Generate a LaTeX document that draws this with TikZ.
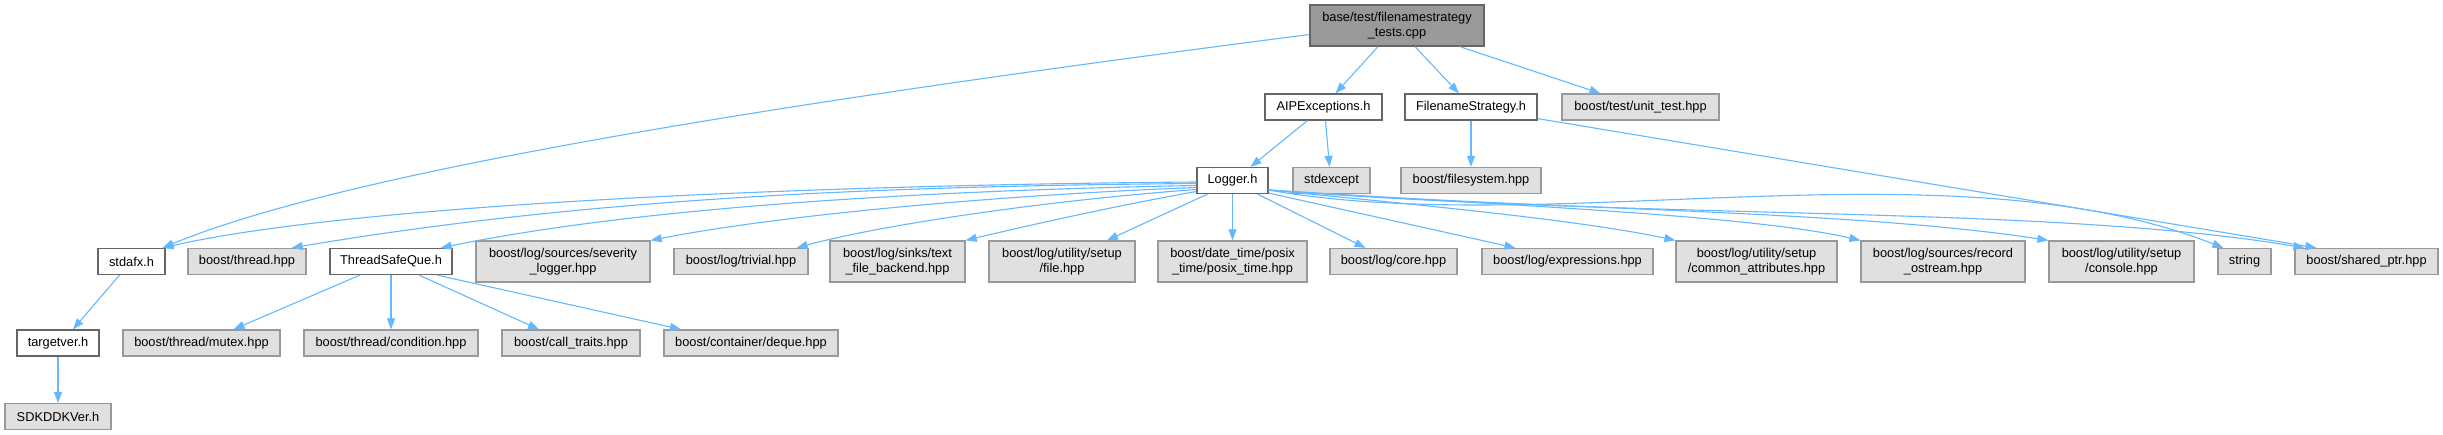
\documentclass[tikz,border=0pt]{standalone}
\usepackage{fontspec}
\setmainfont{Liberation Sans}
\usetikzlibrary{arrows.meta}
\definecolor{edgeblue}{HTML}{63B8FF}
\definecolor{extfill}{HTML}{E0E0E0}
\definecolor{extdraw}{HTML}{999999}
\definecolor{intdraw}{HTML}{666666}
\definecolor{topfill}{HTML}{999999}
\begin{document}
\begin{tikzpicture}[x=1pt,y=-1pt,
 box/.style={draw, rectangle, line width=1.2pt, inner sep=0pt, align=center, font=\fontsize{12.8}{15}\selectfont, text=black},
 ext/.style={box, fill=extfill, draw=extdraw},
 int/.style={box, fill=white, draw=intdraw},
 topnode/.style={box, fill=topfill, draw=intdraw},
 hone/.style={minimum height=26pt},
 htwo/.style={minimum height=41pt},
 dep/.style={draw=edgeblue, line width=1.1pt, -{Triangle[length=11pt,width=8pt]}}]
\useasboundingbox[fill=white] (0,0) rectangle (2443,435);

% row 1
\node[topnode,htwo,minimum width=174] (T) at (1397,25.5) {base/test/filenamestrategy\\\_tests.cpp};
% row 2
\node[int,hone,minimum width=117] (AIP) at (1323.5,107) {AIPExceptions.h};
\node[int,hone,minimum width=132] (FS) at (1471,107) {FilenameStrategy.h};
\node[ext,hone,minimum width=157] (UT) at (1640.5,107) {boost/test/unit\_test.hpp};
% row 3
\node[int,hone,minimum width=71] (LOG) at (1232.5,180.5) {Logger.h};
\node[ext,hone,minimum width=77] (SE) at (1331.5,180.5) {stdexcept};
\node[ext,hone,minimum width=140] (FSYS) at (1471,180.5) {boost/filesystem.hpp};
% row 4
\node[int,hone,minimum width=67] (STD) at (131.5,261.5) {stdafx.h};
\node[ext,hone,minimum width=118] (THR) at (247,261.5) {boost/thread.hpp};
\node[int,hone,minimum width=122] (TSQ) at (391,261.5) {ThreadSafeQue.h};
\node[ext,htwo,minimum width=174] (SEV) at (563,261.5) {boost/log/sources/severity\\\_logger.hpp};
\node[ext,hone,minimum width=134] (TRIV) at (741,261.5) {boost/log/trivial.hpp};
\node[ext,htwo,minimum width=135] (TFB) at (897.5,261.5) {boost/log/sinks/text\\\_file\_backend.hpp};
\node[ext,htwo,minimum width=146] (SFILE) at (1062,261.5) {boost/log/utility/setup\\/file.hpp};
\node[ext,htwo,minimum width=149] (POSIX) at (1232.5,261.5) {boost/date\_time/posix\\\_time/posix\_time.hpp};
\node[ext,hone,minimum width=127] (CORE) at (1393.5,261.5) {boost/log/core.hpp};
\node[ext,hone,minimum width=171] (EXPR) at (1567.5,261.5) {boost/log/expressions.hpp};
\node[ext,htwo,minimum width=161] (COMM) at (1756.5,261.5) {boost/log/utility/setup\\/common\_attributes.hpp};
\node[ext,htwo,minimum width=164] (REC) at (1943,261.5) {boost/log/sources/record\\\_ostream.hpp};
\node[ext,htwo,minimum width=145] (CONS) at (2121.5,261.5) {boost/log/utility/setup\\/console.hpp};
\node[ext,hone,minimum width=53] (STR) at (2244.5,261.5) {string};
\node[ext,hone,minimum width=143] (SP) at (2366.5,261.5) {boost/shared\_ptr.hpp};
% row 5
\node[int,hone,minimum width=82] (TV) at (58,343) {targetver.h};
\node[ext,hone,minimum width=157] (MUT) at (201.5,343) {boost/thread/mutex.hpp};
\node[ext,hone,minimum width=174] (COND) at (391,343) {boost/thread/condition.hpp};
\node[ext,hone,minimum width=138] (CALL) at (571,343) {boost/call\_traits.hpp};
\node[ext,hone,minimum width=174] (DEQ) at (751,343) {boost/container/deque.hpp};
% row 6
\node[ext,hone,minimum width=106] (SDK) at (58,416.5) {SDKDDKVer.h};

% edges from top
\draw[dep] ([yshift=-9]T.west) .. controls (800,100) and (350,170) .. ([xshift=-3]STD.north east);
\draw[dep] ([xshift=-19]T.south) -- ([xshift=12]AIP.north);
\draw[dep] ([xshift=18]T.south) -- ([xshift=-12]FS.north);
\draw[dep] ([xshift=-25]T.south east) -- ([xshift=-40]UT.north);
% AIPExceptions
\draw[dep] ([xshift=-16]AIP.south) -- ([xshift=18]LOG.north);
\draw[dep] ([xshift=2]AIP.south) -- ([xshift=-2]SE.north);
% FilenameStrategy
\draw[dep] (FS.south) -- (FSYS.north);
\draw[dep] ([yshift=2]FS.south east) -- ([xshift=22]SP.north west);
% Logger left
\draw[dep] ([yshift=-1.5]LOG.west) .. controls (800,185) and (350,205) .. ([xshift=-3]STD.north east);
\draw[dep] ([yshift=-3]LOG.west) .. controls (900,186) and (600,196) .. ([xshift=-15]THR.north east);
\draw[dep] ([yshift=-5]LOG.west) .. controls (950,190) and (650,205) .. ([xshift=-12]TSQ.north east);
\draw[dep] ([yshift=-7]LOG.west) .. controls (1000,195) and (780,215) .. (SEV.north east);
\draw[dep] ([yshift=-9]LOG.west) .. controls (1050,200) and (880,225) .. ([xshift=-12]TRIV.north east);
\draw[dep] ([yshift=-11]LOG.west) .. controls (1120,205) and (1030,225) .. (TFB.north east);
\draw[dep] ([xshift=-25]LOG.south) -- ([xshift=45]SFILE.north);
\draw[dep] (LOG.south) -- (POSIX.north);
\draw[dep] ([xshift=25]LOG.south) -- ([xshift=-28]CORE.north);
% Logger right
\draw[dep] ([yshift=1]LOG.south east) -- ([xshift=-52]EXPR.north);
\draw[dep] ([yshift=-9.5]LOG.east) .. controls (1420,205) and (1580,220) .. (COMM.north west);
\draw[dep] ([yshift=-9.5]LOG.east) .. controls (1500,205) and (1750,215) .. (REC.north west);
\draw[dep] ([yshift=-9.5]LOG.east) .. controls (1550,210) and (1850,210) .. (CONS.north west);
\draw[dep] ([yshift=-9.5]LOG.east) .. controls (1550,240) and (1950,140) .. ([xshift=6]STR.north west);
\draw[dep] ([yshift=-9.5]LOG.east) .. controls (1650,220) and (2050,205) .. ([xshift=10]SP.north west);
% stdafx / targetver
\draw[dep] ([xshift=-12]STD.south) -- ([xshift=15]TV.north);
\draw[dep] (TV.south) -- (SDK.north);
% ThreadSafeQue
\draw[dep] ([xshift=-31]TSQ.south) -- ([xshift=32]MUT.north);
\draw[dep] (TSQ.south) -- (COND.north);
\draw[dep] ([xshift=28]TSQ.south) -- ([xshift=-32]CALL.north);
\draw[dep] ([xshift=46]TSQ.south) -- ([xshift=-70]DEQ.north);
\end{tikzpicture}
\end{document}
